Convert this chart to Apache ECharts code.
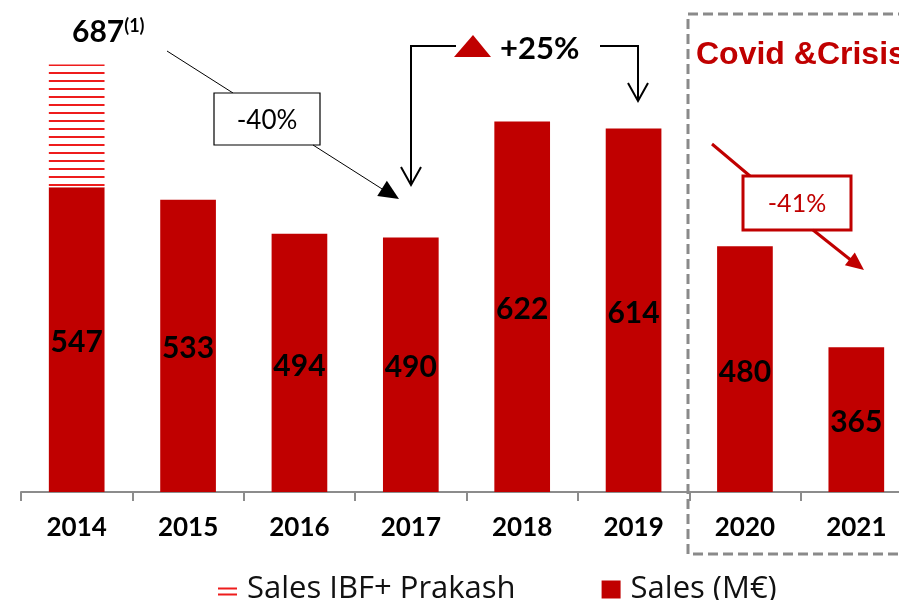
<!DOCTYPE html>
<html>
<head>
<meta charset="utf-8">
<script src="https://cdn.jsdelivr.net/npm/echarts@6/dist/echarts.min.js"></script>
<style>
  html, body { margin: 0; padding: 0; background: #fff; }
  #main { width: 899px; height: 600px; }
</style>
</head>
<body>
<div id="main"></div>
<script>
// data
var years = ['2014', '2015', '2016', '2017', '2018', '2019', '2020', '2021'];
var sales = [547, 533, 494, 490, 622, 614, 480, 365];
var salesIbfPrakash = [687, null, null, null, null, null, null, null]; // total incl. IBF + Prakash

var RED = '#c00000';

// extra part stacked on top of Sales
var extra = salesIbfPrakash.map(function(v, i) {
    return v == null ? '-' : v - sales[i];
});

// stripes for the IBF+Prakash part
var stripe = document.createElement('canvas');
stripe.width = 8;
stripe.height = 8;
var ctx = stripe.getContext('2d');
ctx.fillStyle = '#fff';
ctx.fillRect(0, 0, 8, 8);
ctx.fillStyle = '#ee1c1c';
ctx.fillRect(0, 0, 8, 2);

// arrow head helper (filled triangle pointing from a to b)
function arrowHead(a, b, len, half, color) {
    var dx = b[0] - a[0], dy = b[1] - a[1];
    var d = Math.sqrt(dx * dx + dy * dy);
    var ux = dx / d, uy = dy / d;
    var bx = b[0] - ux * len, by = b[1] - uy * len;
    return {
        type: 'polygon',
        shape: { points: [b, [bx - uy * half, by + ux * half], [bx + uy * half, by - ux * half]] },
        style: { fill: color },
        z: 100
    };
}

var myChart = echarts.init(document.getElementById('main'));

var option = {
    backgroundColor: '#fff',
    animation: false,
    textStyle: { fontFamily: 'Lato' },
    grid: { left: 21, width: 891, top: 53, height: 439, outerBoundsMode: 'none', containLabel: false },
    legend: {
        left: 213,
        top: 569,
        itemWidth: 19,
        itemHeight: 18,
        itemGap: 86,
        textStyle: { fontFamily: 'Open Sans', fontSize: 31, color: '#111', padding: [0, 0, 0, 5] },
        data: [
            { name: 'Sales IBF+ Prakash', icon: 'path://M0,0H0.01V0.01H0Z M0,7H19V9H0Z M0,13H19V15H0Z M0,17.99H0.01V18H0Z', itemStyle: { color: '#ee1c1c' } },
            { name: 'Sales (M€)', icon: 'rect', itemStyle: { color: RED } }
        ]
    },
    xAxis: {
        type: 'category',
        data: years,
        axisLine: { lineStyle: { color: '#8c8c8c', width: 2 } },
        axisTick: { show: true, length: 9, lineStyle: { color: '#8c8c8c', width: 2 } },
        axisLabel: { color: '#000', fontFamily: 'Lato', fontWeight: 'bold', fontSize: 26, margin: 23 }
    },
    yAxis: {
        type: 'value',
        min: 200,
        max: 700,
        show: false,
        splitLine: { show: false }
    },
    series: [{
        name: 'Sales (M€)',
        type: 'bar',
        stack: 's',
        barWidth: '50%',
        data: sales,
        itemStyle: { color: RED },
        label: {
            show: true,
            position: 'inside',
            offset: [0, 3],
            color: '#000',
            fontFamily: 'Lato',
            fontWeight: 'bold',
            fontSize: 30
        }
    }, {
        name: 'Sales IBF+ Prakash',
        type: 'bar',
        stack: 's',
        barWidth: '50%',
        data: extra,
        itemStyle: { color: { image: stripe, repeat: 'repeat' } }
    }],
    graphic: [
        // 687(1)
        {
            type: 'text', left: 72, top: 17, z: 100,
            style: {
                text: '{a|687}{b|(1)}',
                rich: {
                    a: { fontFamily: 'Lato', fontWeight: 'bold', fontSize: 30, fill: '#000' },
                    b: { fontFamily: 'Lato', fontWeight: 'bold', fontSize: 18, fill: '#000', verticalAlign: 'top', padding: [0, 0, 12, 0] }
                }
            }
        },
        // -40% callout
        { type: 'line', shape: { x1: 167, y1: 51, x2: 233, y2: 93 }, style: { stroke: '#000', lineWidth: 1 }, z: 100 },
        { type: 'rect', shape: { x: 214, y: 93, width: 106, height: 52 }, style: { fill: '#fff', stroke: '#000', lineWidth: 1.2 }, z: 100 },
        { type: 'text', x: 267, y: 121, z: 101, style: { text: '-40%', fontFamily: 'Lato', fontSize: 26, fill: '#000', align: 'center', verticalAlign: 'middle' } },
        { type: 'line', shape: { x1: 313, y1: 145, x2: 390, y2: 194 }, style: { stroke: '#000', lineWidth: 1 }, z: 100 },
        arrowHead([313, 145], [399, 199], 20, 9, '#000'),
        // +25% bracket
        { type: 'polyline', shape: { points: [[411, 185], [411, 46], [456, 46]] }, style: { stroke: '#000', lineWidth: 2, fill: null }, z: 100 },
        { type: 'polyline', shape: { points: [[401, 167], [411, 185], [421, 167]] }, style: { stroke: '#000', lineWidth: 2, fill: null }, z: 100 },
        { type: 'polygon', shape: { points: [[473, 35], [454, 57], [491, 57]] }, style: { fill: RED }, z: 100 },
        { type: 'text', x: 500, y: 49, z: 100, style: { text: '+25%', fontFamily: 'Lato', fontWeight: 'bold', fontSize: 31, fill: '#000', verticalAlign: 'middle' } },
        { type: 'polyline', shape: { points: [[600, 46], [638, 46], [638, 101]] }, style: { stroke: '#000', lineWidth: 2, fill: null }, z: 100 },
        { type: 'polyline', shape: { points: [[628, 83], [638, 101], [648, 83]] }, style: { stroke: '#000', lineWidth: 2, fill: null }, z: 100 },
        // covid box
        { type: 'rect', shape: { x: 688, y: 14, width: 300, height: 540 }, style: { fill: null, stroke: '#8a8a8a', lineWidth: 3, lineDash: [10, 5] }, z: 100 },
        { type: 'text', x: 696, y: 55, z: 100, style: { text: 'Covid &Crisis', fontFamily: 'Liberation Sans', fontWeight: 'bold', fontSize: 32, fill: RED, verticalAlign: 'middle' } },
        // -41% callout
        { type: 'line', shape: { x1: 712, y1: 144, x2: 750, y2: 176 }, style: { stroke: RED, lineWidth: 3 }, z: 100 },
        { type: 'rect', shape: { x: 743, y: 176, width: 108, height: 54 }, style: { fill: '#fff', stroke: RED, lineWidth: 3 }, z: 100 },
        { type: 'text', x: 797, y: 204, z: 101, style: { text: '-41%', fontFamily: 'Lato', fontSize: 25, fill: RED, align: 'center', verticalAlign: 'middle' } },
        { type: 'line', shape: { x1: 813, y1: 230, x2: 852, y2: 261 }, style: { stroke: RED, lineWidth: 3 }, z: 100 },
        arrowHead([813, 230], [864, 270], 18, 8, RED)
    ]
};

myChart.setOption(option);
</script>
</body>
</html>
